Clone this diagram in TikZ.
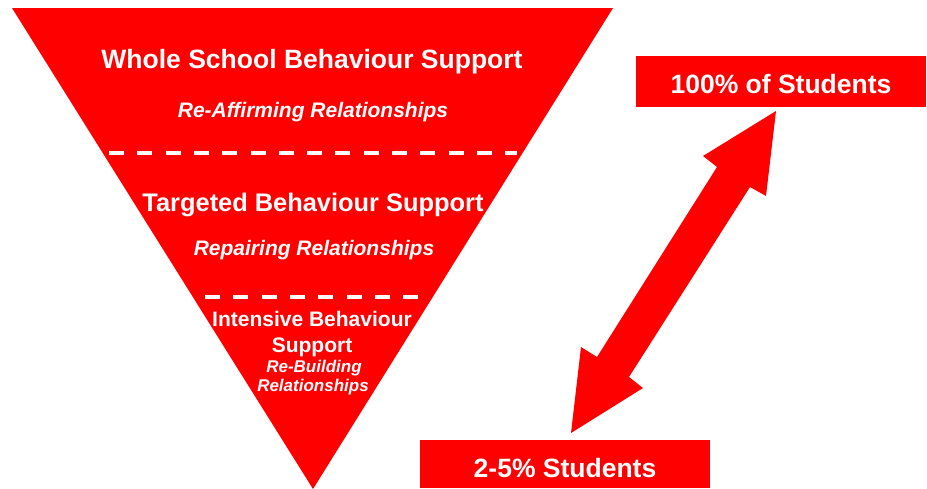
\documentclass[tikz,border=0pt]{standalone}
\usepackage{fontspec}
\setmainfont{Liberation Sans}
\definecolor{tierred}{RGB}{255,0,0}
\begin{document}
\begin{tikzpicture}[x=1pt,y=-1pt,
  tiertitle/.style={text=white,font=\bfseries\fontsize{#1}{#1}\selectfont,anchor=base,inner sep=0pt},
  tiersub/.style={text=white,font=\bfseries\itshape\fontsize{#1}{#1}\selectfont,anchor=base,inner sep=0pt},
  divider/.style={white,line width=4pt,dash pattern=on 15pt off 13.3pt},
  countbox/.style={fill=tierred,inner sep=0pt,minimum width=290pt,minimum height=51pt}]
\useasboundingbox (0,0) rectangle (927,488);

% inverted pyramid of support tiers
\fill[tierred] (12,8) -- (613,8) -- (313,489) -- cycle;
\draw[divider] (109,153) -- (517,153);
\draw[divider] (205,297) -- (419,297);

% tier labels
\node[tiertitle=26.5] (whole) at (312,68) {Whole School Behaviour Support};
\node[tiersub=21] (reaff) at (313,117) {Re-Affirming Relationships};
\node[tiertitle=25.4] (targ) at (313,211) {Targeted Behaviour Support};
\node[tiersub=21] (repair) at (314,255) {Repairing Relationships};
\node[tiertitle=21] (inten) at (312,326) {Intensive Behaviour};
\node[tiertitle=21] (intsup) at (312,352) {Support};
\node[tiersub=17] (rebuild) at (314,372) {Re-Building};
\node[tiersub=17] (rebuild2) at (313,391) {Relationships};

% student proportion boxes
\node[countbox] (all) at (781,81.5) {};
\node[tiertitle=26.5] (alltext) at (781,93) {100\% of Students};
\fill[tierred] (420,440) rectangle (710,488);
\node[tiertitle=26.5] (few) at (565,477) {2-5\% Students};

% double-headed block arrow between the boxes
\coordinate (tipA) at (776,111);
\coordinate (tipB) at (571,433);
\fill[tierred] (tipA) -- (766,196) -- (750,187) -- (629,377) -- (643,388) -- (tipB)
  -- (581,347) -- (597,357) -- (717,167) -- (703,156) -- cycle;
\end{tikzpicture}
\end{document}
